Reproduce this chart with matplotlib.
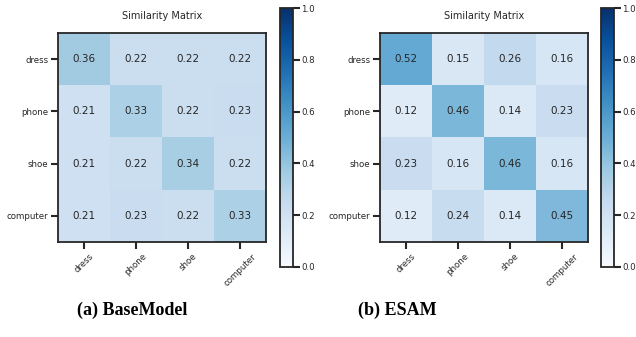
import matplotlib.pyplot as plt
import numpy as np

labels = ["dress", "phone", "shoe", "computer"]
base_model = [
    [0.36, 0.22, 0.22, 0.22],
    [0.21, 0.33, 0.22, 0.23],
    [0.21, 0.22, 0.34, 0.22],
    [0.21, 0.23, 0.22, 0.33],
]
esam = [
    [0.52, 0.15, 0.26, 0.16],
    [0.12, 0.46, 0.14, 0.23],
    [0.23, 0.16, 0.46, 0.16],
    [0.12, 0.24, 0.14, 0.45],
]
captions = ["(a) BaseModel", "(b) ESAM"]

W, H = 636, 337
fig = plt.figure(figsize=(W / 100, H / 100), dpi=100)
dark = "#262626"


def px(x0, y0, x1, y1):
    return [x0 / W, 1 - y1 / H, (x1 - x0) / W, (y1 - y0) / H]


panels = [
    (base_model, (58, 33, 266, 242), (280, 8, 293, 267), 132),
    (esam, (380, 33, 588, 242), (601, 8, 614, 267), 397),
]

for (mat, hm_box, cb_box, cap_x), caption in zip(panels, captions):
    ax = fig.add_axes(px(*hm_box))
    data = np.array(mat)
    im = ax.imshow(data, cmap="Blues", vmin=0, vmax=1, aspect="auto")
    for i in range(len(labels)):
        for j in range(len(labels)):
            ax.text(j, i, f"{data[i, j]:.2f}", ha="center", va="center",
                    fontsize=7.5, color=dark)
    ax.set_xticks(range(len(labels)))
    ax.set_yticks(range(len(labels)))
    ax.set_xticklabels(labels, rotation=45, ha="center", va="top")
    ax.set_yticklabels(labels)
    ax.tick_params(length=5, width=1.5, labelsize=6.2, colors=dark,
                   direction="out", pad=2)
    for s in ax.spines.values():
        s.set_linewidth(1.3)
        s.set_color(dark)
    ax.set_title("Similarity Matrix", fontsize=7, color=dark, pad=10)

    cax = fig.add_axes(px(*cb_box))
    cb = fig.colorbar(im, cax=cax)
    cb.set_ticks([0, 0.2, 0.4, 0.6, 0.8, 1.0])
    cax.tick_params(length=5, width=1.5, labelsize=6.2, colors=dark, pad=1)
    cb.outline.set_linewidth(1.3)
    cb.outline.set_edgecolor(dark)

    fig.text(cap_x / W, 1 - 310 / H, caption, ha="center", va="center",
             fontsize=13, fontweight="bold", family="Liberation Serif")

fig.savefig("out.png", dpi=100)
